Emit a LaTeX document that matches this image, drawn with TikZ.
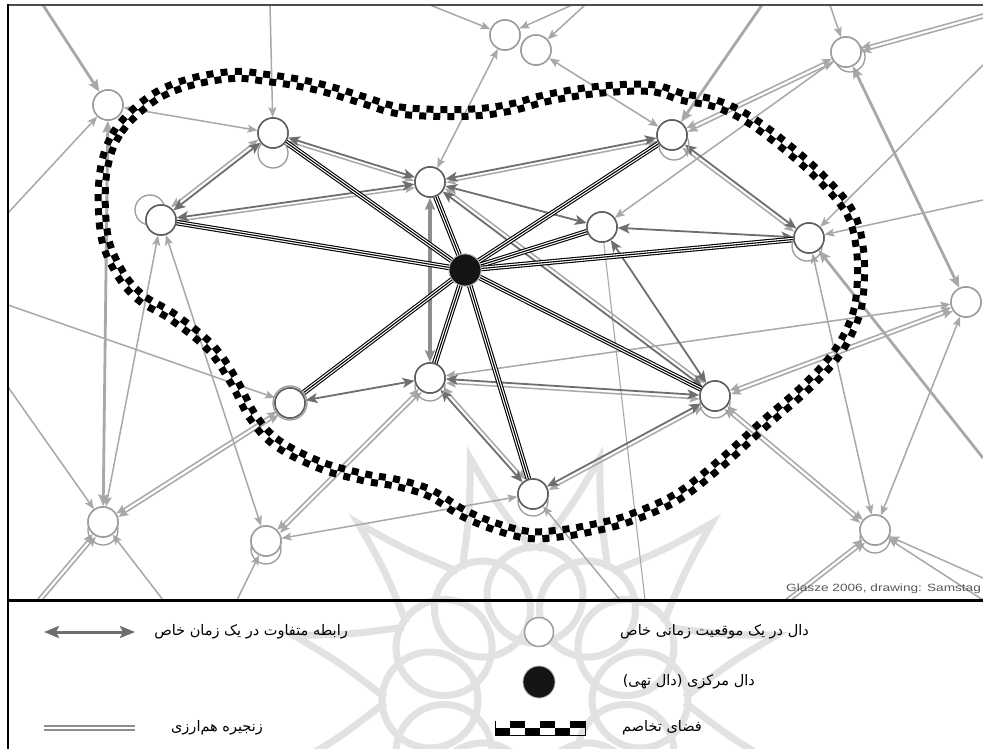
\documentclass[tikz,border=0pt]{standalone}
\usepackage{fontspec}
\setmainfont{Liberation Sans}
\newfontfamily\fafont[Script=Arabic]{DejaVu Sans}
\TeXXeTstate=1
\usetikzlibrary{arrows.meta,decorations.markings}
\definecolor{relc}{HTML}{6E6E6E}
\definecolor{litec}{HTML}{A8A8A8}
\definecolor{midc}{HTML}{8E8E8E}
\definecolor{nodeo}{HTML}{9C9C9C}
\definecolor{nodei}{HTML}{5E5E5E}
\definecolor{wmark}{HTML}{E2E2E2}
\newcommand\prl[3]{\draw[lb,transform canvas={shift={#3}}] (#1) -- (#2);}
\begin{document}
\begin{tikzpicture}[x=1pt,y=-1pt,
  sigo/.style={circle,draw=nodeo,line width=1.5pt,fill=white,minimum size=30pt,inner sep=0pt},
  sigi/.style={circle,draw=nodei,line width=1.5pt,fill=white,minimum size=30pt,inner sep=0pt},
  ghost/.style={circle,draw=nodeo,line width=1.3pt,minimum size=30pt,inner sep=0pt},
  cnode/.style={circle,fill=black!92,draw=black!30,line width=0.8pt,minimum size=32pt,inner sep=0pt},
  core/.style={draw=black,line width=5.6pt,postaction={draw=white,line width=3.4pt},postaction={draw=black,line width=1.1pt}},
  rel/.style={draw=relc,line width=1.8pt,{Stealth[length=12pt,width=10pt,inset=3pt]}-{Stealth[length=12pt,width=10pt,inset=3pt]}},
  lite/.style={draw=litec,line width=1.5pt},
  la/.style={lite,-{Stealth[length=10pt,width=8pt,inset=2pt]}},
  lb/.style={lite,{Stealth[length=10pt,width=8pt,inset=2pt]}-{Stealth[length=10pt,width=8pt,inset=2pt]}},
  lthick/.style={draw=litec,line width=2.8pt},
  tipk/.style={-{Stealth[length=12pt,width=10pt,inset=2pt]}},
  tipkk/.style={{Stealth[length=12pt,width=10pt,inset=2pt]}-{Stealth[length=12pt,width=10pt,inset=2pt]}},
  fatext/.style={font=\fafont\fontsize{14.5}{16}\selectfont,inner sep=0pt,anchor=east},
  checker/.style={decorate,decoration={markings,
    mark=between positions 0 and 1 step 7pt with {
      \pgfmathtruncatemacro\chkodd{mod(\pgfkeysvalueof{/pgf/decoration/mark info/sequence number},2)}
      \ifnum\chkodd=1
        \fill[black] (-3.5pt,0pt) rectangle (3.5pt,7pt);
      \else
        \fill[black] (-3.5pt,-7pt) rectangle (3.5pt,0pt);
      \fi}}}
]
\useasboundingbox (0,0) rectangle (983,749);
\fill[white] (0,0) rectangle (983,749);

% watermark
\begin{scope}
\clip (8,430) rectangle (983,749);
\begin{scope}[shift={(535,700)}]
\foreach \a in {0,30,...,330} {
  \draw[wmark,line width=7pt] (\a:105) circle (48);
}
\foreach \a in {15,45,...,345} {
  \draw[wmark,line width=7pt] ({\a-14}:150) .. controls ({\a-4}:200) .. (\a:250) .. controls ({\a+4}:200) .. ({\a+14}:150);
}
\end{scope}
\end{scope}

% free ends
\coordinate (t1) at (43,5);
\coordinate (t2) at (270,5);
\coordinate (t3) at (430,5);
\coordinate (t4) at (572,5);
\coordinate (t5) at (585,5);
\coordinate (t6) at (762,5);
\coordinate (t7) at (830,5);
\coordinate (t8) at (983,14);
\coordinate (r1) at (983,65);
\coordinate (r2) at (983,200);
\coordinate (r3) at (983,458);
\coordinate (r4) at (983,578);
\coordinate (r5) at (983,600);
\coordinate (l1) at (8,213);
\coordinate (l2) at (8,305);
\coordinate (l3) at (8,387);
\coordinate (b1) at (37,600);
\coordinate (b2) at (163,600);
\coordinate (b3) at (237,600);
\coordinate (b4) at (620,600);
\coordinate (b5) at (645,600);
\coordinate (b6) at (785,600);

% nodes (positions)
\path
  (108,105) node[sigo] (A) {}
  (505,35) node[sigo] (B) {}
  (536,50) node[sigo] (C) {}
  (846,52) node[sigo] (D) {}
  (966,302) node[sigo] (E) {}
  (103,522) node[sigo] (F) {}
  (266,541) node[sigo] (G) {}
  (875,530) node[sigo] (H) {}
  (273,133) node[sigi] (N1) {}
  (161,220) node[sigi] (N2) {}
  (430,182) node[sigi] (N3) {}
  (672,135) node[sigi] (N4) {}
  (602,227) node[sigi] (N5) {}
  (809,238) node[sigi] (N6) {}
  (430,378) node[sigi] (N7) {}
  (290,403) node[sigi] (N8) {}
  (715,396) node[sigi] (N9) {}
  (533,494) node[sigi] (N10) {}
  (465,270) node[cnode] (c) {};

\begin{scope}
\clip (8,5) rectangle (983,600);
% light edges
\draw[lthick,tipk] (t1) -- (A);
\draw[la] (t2) -- (N1);
\draw[la] (t3) -- (B);
\draw[la] (t4) -- (B);
\draw[la] (t5) -- (C);
\draw[lthick,tipk] (t6) -- (N4);
\draw[la] (t7) -- (D);
\draw[la] (t8) -- (D);
\draw[la,transform canvas={shift={(0,4)}}] (t8) -- (D);
\draw[la] (l1) -- (A);
\draw[lb] (A) -- (N1);
\draw[lthick,tipkk] (A) -- (F);
\draw[lb] (N2) -- (F);
\draw[lb] (N2) -- (G);
\draw[la] (l2) -- (N8);
\draw[la] (l3) -- (F);
\draw[lb] (N8) -- (F); \prl{N8}{F}{(2.1,3.4)}
\draw[lb] (N7) -- (G); \prl{N7}{G}{(2.8,2.8)}
\draw[lb] (N10) -- (G);
\draw[la] (b1) -- (F);
\draw[la,transform canvas={shift={(3,2.6)}}] (b1) -- (F);
\draw[la] (b2) -- (F);
\draw[la] (b3) -- (G);
\draw[la] (b4) -- (N10);
\draw[lite,line width=1.1pt] (N5) -- (b5);
\draw[lb] (B) -- (N3);
\draw[lb] (C) -- (N4);
\draw[lb] (D) -- (N4); \prl{D}{N4}{(1.7,3.6)}
\draw[la] (D) -- (N5);
\draw[la] (r1) -- (N6);
\draw[la] (r2) -- (N6);
\draw[lthick,tipkk] (D) -- (E);
\draw[lthick,tipk] (r3) -- (N6);
\draw[lb] (N6) -- (H);
\draw[lb] (E) -- (H);
\draw[lb] (E) -- (N7);
\draw[lb] (E) -- (N9); \prl{E}{N9}{(1.4,3.7)}
\draw[lb] (H) -- (N9); \prl{H}{N9}{(-2.6,3.1)}
\draw[la] (b6) -- (H);
\draw[la,transform canvas={shift={(2.4,3.1)}}] (b6) -- (H);
\draw[la] (r4) -- (H);
\draw[la] (r5) -- (H);

% relations
\prl{N1}{N2}{(-2.4,-3.2)} \draw[rel] (N1) -- (N2);
\prl{N1}{N3}{(-1,3.5)} \draw[rel] (N1) -- (N3);
\prl{N2}{N3}{(0.5,3.5)} \draw[rel] (N2) -- (N3);
\prl{N3}{N4}{(0.7,3.5)} \draw[rel] (N3) -- (N4);
\draw[rel] (N3) -- (N5);
\prl{N4}{N6}{(-2.4,3.2)} \draw[rel] (N4) -- (N6);
\draw[rel] (N5) -- (N6);
\prl{N3}{N9}{(2.4,-3.2)} \draw[rel] (N3) -- (N9);
\draw[rel] (N5) -- (N9);
\draw[draw=midc,line width=3.4pt,tipkk] (N3) -- (N7);
\draw[rel] (N8) -- (N7);
\prl{N7}{N9}{(0.3,4)} \draw[rel] (N7) -- (N9);
\prl{N7}{N10}{(3,-2.6)} \draw[rel] (N7) -- (N10);
\prl{N9}{N10}{(1.9,3.5)} \draw[rel] (N9) -- (N10);

% core (equivalence to the empty signifier)
\foreach \n in {N1,N2,N3,N4,N5,N6,N7,N8,N9,N10} {
  \path[core] (c) -- (\n);
}

% antagonistic frontier
\path[checker] plot[smooth cycle,tension=0.6] coordinates {
(103,175) (117,133) (150,100) (187,83) (233,75) (267,78) (300,83) (330,90)
(363,100) (397,110) (440,113) (480,112) (513,107) (547,98) (597,90) (650,88)
(683,97) (717,104) (750,120) (790,150) (823,180) (850,213) (860,250) (860,293)
(853,323) (834,357) (803,390) (765,423) (721,463) (677,497) (630,518) (597,527)
(563,533) (530,535) (497,527) (463,513) (430,493) (397,483) (363,477) (320,465)
(277,443) (253,417) (233,380) (210,347) (173,317) (140,297) (118,270) (104,233)};

% ghost circles
\foreach \p in {(273,153),(150,210),(674,145),(850,57),(807,246),(715,403),(430,386),(533,501),(103,530),(266,549),(875,538)} {
  \node[ghost] at \p {};
}
\node[ghost,minimum size=34pt] at (290,403) {};
\end{scope}

% redraw nodes on top
\foreach \n/\s in {A/sigo,B/sigo,C/sigo,D/sigo,E/sigo,F/sigo,G/sigo,H/sigo,N1/sigi,N2/sigi,N3/sigi,N4/sigi,N5/sigi,N6/sigi,N7/sigi,N8/sigi,N9/sigi,N10/sigi} {
  \node[\s] at (\n) {};
}
\node[cnode] at (c) {};

% credit
\node[anchor=base west,inner sep=0pt,text=black!65] (cred) at (786,591) {\fontsize{10.5}{12}\selectfont\scalebox{1.3}[1]{Glasze 2006, drawing: Samstag}};

% frame
\draw[black!70,line width=2pt] (7,5) -- (983,5);
\draw[black,line width=2.5pt] (8,4) -- (8,749);
\draw[black,line width=3pt] (8,600) -- (983,600);

% legend
\coordinate (ga1) at (44,632);
\coordinate (ga2) at (135,632);
\draw[draw=relc,line width=3pt,{Stealth[length=15pt,width=12pt,inset=3pt]}-{Stealth[length=15pt,width=12pt,inset=3pt]}] (ga1) -- (ga2);
\node[fatext] (lt1) at (348,632) {\beginR رابطه متفاوت در یک زمان خاص\endR};
\node[sigo,minimum size=29pt] (lc1) at (539,632) {};
\node[fatext] (lt2) at (809,632) {\beginR دال در یک موقعیت زمانی خاص\endR};
\node[cnode] (lc2) at (539,682) {};
\node[fatext] (lt3) at (755,682) {\beginR دال مرکزی (دال تهی)\endR};
\coordinate (ge1) at (44,728);
\coordinate (ge2) at (135,728);
\draw[draw=midc,double=white,double distance=1.4pt,line width=2pt] (ge1) -- (ge2);
\node[fatext] (lt4) at (263,728) {\beginR زنجیره هم‌ارزی\endR};
\foreach \i in {0,...,5} {
  \pgfmathtruncatemacro\chkodd{mod(\i,2)}
  \ifnum\chkodd=0
    \fill[black] (495+15*\i,728) rectangle (510+15*\i,735);
  \else
    \fill[black] (495+15*\i,721) rectangle (510+15*\i,728);
  \fi
}
\draw[black,line width=0.8pt] (495,721) -- (495,735) -- (585,735) -- (585,721);
\node[fatext] (lt5) at (702,728) {\beginR فضای تخاصم\endR};
\end{tikzpicture}
\end{document}
